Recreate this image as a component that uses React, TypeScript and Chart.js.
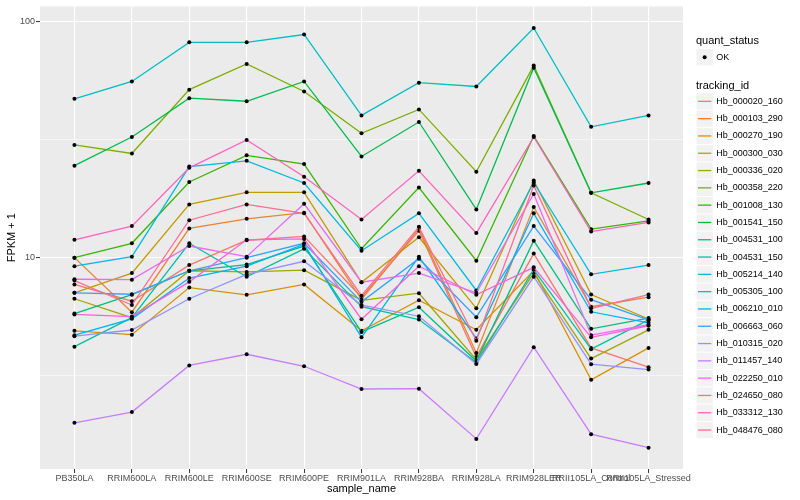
import React, { useEffect, useRef } from "react";
import { Chart, registerables } from "chart.js";

Chart.register(...registerables);

const categories = [
  "PB350LA",
  "RRIM600LA",
  "RRIM600LE",
  "RRIM600SE",
  "RRIM600PE",
  "RRIM901LA",
  "RRIM928BA",
  "RRIM928LA",
  "RRIM928LER",
  "RRII105LA_Control",
  "RRII105LA_Stressed",
];

const trackingIds = [
  "Hb_000020_160",
  "Hb_000103_290",
  "Hb_000270_190",
  "Hb_000300_030",
  "Hb_000336_020",
  "Hb_000358_220",
  "Hb_001008_130",
  "Hb_001541_150",
  "Hb_004531_100",
  "Hb_004531_150",
  "Hb_005214_140",
  "Hb_005305_100",
  "Hb_006210_010",
  "Hb_006663_060",
  "Hb_010315_020",
  "Hb_011457_140",
  "Hb_022250_010",
  "Hb_024650_080",
  "Hb_033312_130",
  "Hb_048476_080",
];

const seriesColors = [
  "#F8766D", "#EA8331", "#D89000", "#C09B00", "#A3A500",
  "#7CAE00", "#39B600", "#00BB4E", "#00BF7D", "#00C1A3",
  "#00BFC4", "#00BAE0", "#00B0F6", "#35A2FF", "#9590FF",
  "#C77CFF", "#E76BF3", "#FA62DB", "#FF62BC", "#FF6C91",
];

// FPKM + 1 per sample (same order as categories)
const hb000020_160 = [7.7, 6.54, 9.3, 11.85, 12.3, 6.8, 13.0, 3.8, 10.4, 4.15, 3.44];
const hb000103_290 = [10, 5.88, 13.3, 14.6, 15.5, 6.65, 13.3, 3.95, 16.4, 6.2, 6.8];
const hb000270_190 = [4.9, 4.72, 7.47, 6.96, 7.7, 4.9, 6.6, 4.95, 8.8, 3.04, 4.15];
const hb000300_030 = [7.1, 8.6, 16.8, 18.9, 18.9, 7.87, 12.2, 6.1, 21.2, 6.98, 5.5];
const hb000336_020 = [6.7, 5.57, 8.8, 8.7, 8.85, 6.6, 7.07, 3.7, 8.6, 3.74, 4.95];
const hb000358_220 = [30, 27.6, 51.4, 66, 50.5, 33.6, 42.4, 23.1, 65, 18.8, 14.5];
const hb001008_130 = [10, 11.5, 20.9, 27.1, 24.9, 10.9, 19.8, 9.7, 32.7, 13.2, 14.3];
const hb001541_150 = [24.5, 32.4, 47.3, 45.9, 55.7, 26.8, 37.5, 16.0, 63.7, 18.8, 20.7];
const hb004531_100 = [5.8, 6.97, 8.8, 9.35, 11.2, 4.85, 6.17, 3.65, 11.8, 5.0, 5.55];
const hb004531_150 = [4.2, 5.57, 11.5, 8.3, 10.9, 6.2, 5.47, 3.6, 8.9, 4.1, 5.45];
const hb005214_140 = [47, 55.7, 81.5, 81.5, 88, 40, 55, 53, 93.7, 35.8, 40];
const hb005305_100 = [9.2, 10.1, 24.3, 25.7, 20.7, 10.7, 15.4, 7.26, 20.8, 8.5, 9.3];
const hb006210_010 = [4.7, 5.51, 8.2, 9.2, 11.4, 4.6, 10.1, 4.55, 15.4, 5.9, 5.3];
const hb006663_060 = [7.1, 7.0, 8.8, 10.0, 11.5, 6.5, 9.9, 5.6, 13.6, 6.64, 5.45];
const hb010315_020 = [4.65, 4.94, 6.7, 8.5, 9.65, 6.3, 5.65, 3.55, 8.3, 3.54, 3.36];
const hb011457_140 = [2.0, 2.22, 3.5, 3.9, 3.47, 2.78, 2.79, 1.71, 4.18, 1.79, 1.57];
const hb022250_010 = [8.1, 8.07, 11.2, 10.1, 16.9, 7.87, 8.6, 7.1, 18.6, 4.7, 5.2];
const hb024650_080 = [5.75, 5.63, 7.9, 11.9, 12.0, 5.49, 9.2, 6.96, 9.1, 4.6, 5.15];
const hb033312_130 = [11.9, 13.6, 24.0, 31.5, 22.0, 14.5, 23.3, 12.7, 32.4, 12.9, 14.1];
const hb048476_080 = [8.0, 6.3, 14.4, 16.8, 15.4, 6.9, 13.5, 4.45, 20.2, 6.1, 6.98];

const seriesValues = [
  hb000020_160, hb000103_290, hb000270_190, hb000300_030, hb000336_020,
  hb000358_220, hb001008_130, hb001541_150, hb004531_100, hb004531_150,
  hb005214_140, hb005305_100, hb006210_010, hb006663_060, hb010315_020,
  hb011457_140, hb022250_010, hb024650_080, hb033312_130, hb048476_080,
];

const yGridValues = [3.1623, 10, 31.623, 100];
const yLabelledValues = [10, 100];
const yMin = 1.275;
const yMax = 115.7;

const xTitle = "sample_name";
const yTitle = "FPKM + 1";
const quantTitle = "quant_status";
const quantLabel = "OK";
const legendTitle = "tracking_id";

const FONT = "'Liberation Sans', Arial, Helvetica, sans-serif";

const panelPlugin = {
  id: "ggPanel",
  beforeDraw(chart: any) {
    const { ctx, chartArea } = chart;
    ctx.save();
    ctx.fillStyle = "#EBEBEB";
    ctx.fillRect(chartArea.left, chartArea.top, chartArea.right - chartArea.left, chartArea.bottom - chartArea.top);
    ctx.restore();
  },
};

const legendPlugin = {
  id: "ggLegend",
  afterDraw(chart: any) {
    const ctx = chart.ctx;
    const x0 = 696;
    const key = 17.3;
    ctx.save();
    ctx.textBaseline = "middle";
    ctx.textAlign = "left";
    ctx.fillStyle = "#000000";
    ctx.font = `11px ${FONT}`;
    ctx.fillText(quantTitle, x0, 40.5);

    // quant_status key
    const qTop = 48.5;
    ctx.fillStyle = "#F2F2F2";
    ctx.fillRect(x0 + 0.5, qTop + 0.5, key - 1, key - 1);
    ctx.fillStyle = "#000000";
    ctx.beginPath();
    ctx.arc(x0 + key / 2, qTop + key / 2, 2, 0, Math.PI * 2);
    ctx.fill();
    ctx.font = `9px ${FONT}`;
    ctx.fillText(quantLabel, x0 + key + 3, qTop + key / 2);

    ctx.font = `11px ${FONT}`;
    ctx.fillText(legendTitle, x0, 86);

    const top0 = 92.7;
    trackingIds.forEach((id, i) => {
      const ty = top0 + i * key;
      ctx.fillStyle = "#F2F2F2";
      ctx.fillRect(x0 + 0.5, ty + 0.5, key - 1, key - 1);
      ctx.strokeStyle = seriesColors[i];
      ctx.lineWidth = 1.3;
      ctx.beginPath();
      ctx.moveTo(x0 + 2, ty + key / 2);
      ctx.lineTo(x0 + key - 2, ty + key / 2);
      ctx.stroke();
      ctx.fillStyle = "#000000";
      ctx.font = `9px ${FONT}`;
      ctx.fillText(id, x0 + key + 3, ty + key / 2);
    });
    ctx.restore();
  },
};

export default function App() {
  const ref = useRef<HTMLCanvasElement | null>(null);

  useEffect(() => {
    if (!ref.current) return;
    const n = seriesValues.length;
    const datasets = seriesValues.map((vals, i) => ({
      label: trackingIds[i],
      data: vals.map((v, j) => ({ x: j, y: v })),
      borderColor: seriesColors[i],
      backgroundColor: seriesColors[i],
      borderWidth: 1.3,
      tension: 0,
      fill: false,
      pointRadius: 2,
      pointBackgroundColor: "#000000",
      pointBorderWidth: 0,
      pointHoverRadius: 2,
      order: n - i,
    }));

    const chart = new Chart(ref.current, {
      type: "line",
      data: { datasets },
      plugins: [panelPlugin, legendPlugin],
      options: {
        animation: false,
        responsive: false,
        devicePixelRatio: 1,
        events: [],
        layout: { padding: { top: 5, right: 117, left: 0, bottom: 0 } },
        plugins: {
          legend: { display: false },
          tooltip: { enabled: false },
        },
        scales: {
          x: {
            type: "linear",
            min: -0.6,
            max: 10.6,
            bounds: "data",
            afterBuildTicks: (scale: any) => {
              scale.ticks = categories.map((_, i) => ({ value: i }));
            },
            afterFit: (scale: any) => {
              scale.height = 31;
            },
            ticks: {
              autoSkip: false,
              maxRotation: 0,
              minRotation: 0,
              padding: 0,
              color: "#4D4D4D",
              font: { family: FONT, size: 9 },
              callback: (value: any) => categories[Math.round(Number(value))] ?? "",
            },
            grid: {
              color: "#FFFFFF",
              lineWidth: 1.1,
              drawTicks: true,
              tickLength: 4,
              tickColor: "#333333",
              tickWidth: 1,
            },
            border: { display: false },
            title: {
              display: true,
              text: xTitle,
              color: "#000000",
              font: { family: FONT, size: 11 },
              padding: { top: 0, bottom: 4.5 },
            },
          },
          y: {
            type: "logarithmic",
            min: yMin,
            max: yMax,
            bounds: "data",
            afterBuildTicks: (scale: any) => {
              scale.ticks = yGridValues.map((v) => ({ value: v }));
            },
            afterFit: (scale: any) => {
              scale.width = 40;
            },
            ticks: {
              autoSkip: false,
              padding: 1,
              color: "#4D4D4D",
              font: { family: FONT, size: 9 },
              callback: (value: any) => {
                const v = Number(value);
                return yLabelledValues.includes(v) ? String(v) : "";
              },
            },
            grid: {
              color: "#FFFFFF",
              lineWidth: (ctx: any) =>
                ctx.tick && yLabelledValues.includes(ctx.tick.value) ? 1.1 : 0.55,
              drawTicks: true,
              tickLength: 4,
              tickWidth: 1,
              tickColor: (ctx: any) =>
                ctx.tick && yLabelledValues.includes(ctx.tick.value) ? "#333333" : "rgba(0,0,0,0)",
            },
            border: { display: false },
            title: {
              display: true,
              text: yTitle,
              color: "#000000",
              font: { family: FONT, size: 11 },
              padding: { top: 5, bottom: 0 },
            },
          },
        },
      } as any,
    });

    return () => chart.destroy();
  }, []);

  return (
    <div style={{ position: "fixed", left: 0, top: 0, width: 800, height: 500, background: "#FFFFFF" }}>
      <canvas ref={ref} width={800} height={500} />
    </div>
  );
}
